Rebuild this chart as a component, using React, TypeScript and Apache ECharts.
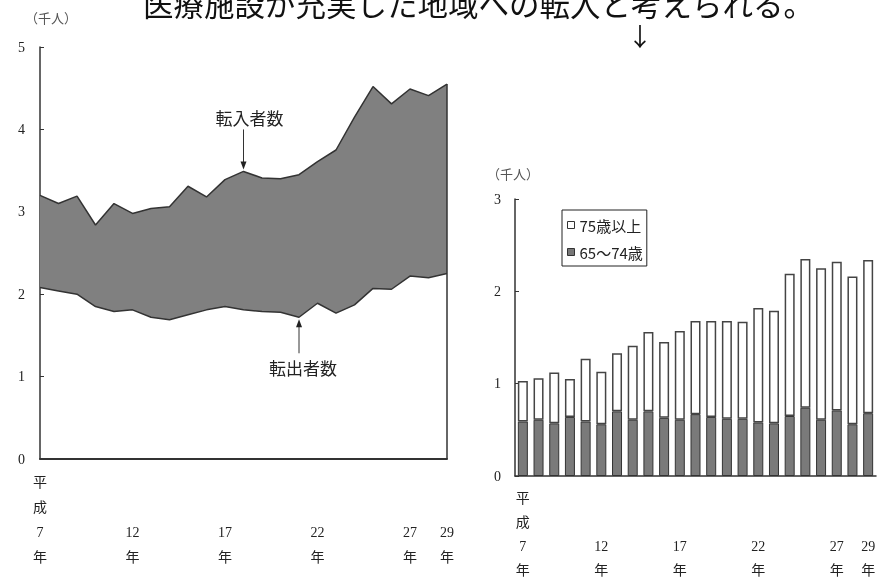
import React, { useEffect, useRef } from "react";
import * as echarts from "echarts";

const years = ["7","8","9","10","11","12","13","14","15","16","17","18","19","20","21","22","23","24","25","26","27","28","29"];
const labelIdx = [0, 5, 10, 15, 20, 22];
const inflow = [3.20,3.10,3.19,2.84,3.10,2.98,3.04,3.06,3.31,3.18,3.39,3.49,3.41,3.40,3.45,3.61,3.75,4.15,4.52,4.31,4.49,4.41,4.55];
const outflow = [2.08,2.04,2.00,1.85,1.79,1.81,1.72,1.69,1.75,1.81,1.85,1.81,1.79,1.78,1.72,1.89,1.77,1.87,2.07,2.06,2.22,2.20,2.25];
const age65to74 = [0.59,0.61,0.57,0.64,0.59,0.56,0.70,0.61,0.70,0.63,0.61,0.67,0.64,0.62,0.62,0.58,0.57,0.65,0.74,0.61,0.71,0.56,0.68];
const age75plus = [0.44,0.45,0.55,0.41,0.68,0.57,0.63,0.80,0.86,0.82,0.96,1.01,1.04,1.06,1.05,1.24,1.22,1.54,1.61,1.64,1.61,1.60,1.66];

const FONT = "'Liberation Serif', 'Noto Sans CJK JP', serif";
const JP = "'Noto Sans CJK JP', sans-serif";

export default function App() {
  const ref = useRef<HTMLDivElement>(null);
  useEffect(() => {
    if (!ref.current) return;
    const chart = echarts.init(ref.current, null, { renderer: "svg" });
    const excess = inflow.map((v, i) => +(v - outflow[i]).toFixed(2));
    const xLabel = {
      interval: (i: number) => labelIdx.includes(i),
      formatter: (v: string, i: number) => (i === 0 ? `平\n成\n${v}\n年` : `\n\n${v}\n年`),
      fontFamily: FONT,
      fontSize: 14,
      color: "#222",
    };
    chart.setOption({
      animation: false,
      legend: {
        orient: "vertical",
        left: 562,
        top: 210,
        borderColor: "#222",
        borderWidth: 1,
        padding: [7, 4, 6, 5],
        itemGap: 11,
        itemWidth: 7,
        itemHeight: 7,
        icon: "rect",
        textStyle: { fontFamily: JP, fontSize: 15, lineHeight: 16, color: "#222" },
        data: [
          { name: "75歳以上", itemStyle: { color: "#fff", borderColor: "#333", borderWidth: 1 } },
          { name: "65～74歳", itemStyle: { color: "#777", borderColor: "#333", borderWidth: 1 } },
        ],
      },
      grid: [
        { left: 40, top: 47, right: 435, bottom: 123, containLabel: false, outerBoundsMode: "none" },
        { left: 515, top: 199, right: 6, bottom: 106, containLabel: false, outerBoundsMode: "none" },
      ],
      xAxis: [
        {
          gridIndex: 0, type: "category", boundaryGap: false, data: years,
          axisLine: { lineStyle: { color: "#333", width: 2 } },
          axisTick: { show: false },
          axisLabel: { ...xLabel, margin: 11, lineHeight: 25 },
        },
        {
          gridIndex: 1, type: "category", boundaryGap: true, data: years,
          axisLine: { lineStyle: { color: "#333", width: 1.5 } },
          axisTick: { show: false },
          axisLabel: { ...xLabel, margin: 10, lineHeight: 24 },
        },
      ],
      yAxis: [
        {
          gridIndex: 0, type: "value", min: 0, max: 5, interval: 1,
          axisLine: { show: true, lineStyle: { color: "#333", width: 1.5 } },
          axisTick: { show: true, inside: true, length: 4, lineStyle: { color: "#333" } },
          splitLine: { show: false },
          axisLabel: { margin: 15, fontFamily: FONT, fontSize: 14, color: "#222" },
        },
        {
          gridIndex: 1, type: "value", min: 0, max: 3, interval: 1,
          axisLine: { show: true, lineStyle: { color: "#333", width: 1.5 } },
          axisTick: { show: true, inside: true, length: 4, lineStyle: { color: "#333" } },
          splitLine: { show: false },
          axisLabel: { margin: 14, fontFamily: FONT, fontSize: 14, color: "#222" },
        },
      ],
      series: [
        {
          name: "転出者数", type: "line", xAxisIndex: 0, yAxisIndex: 0, stack: "flow",
          data: outflow, symbol: "none", lineStyle: { color: "#333", width: 1.5 },
        },
        {
          name: "転入超過数", type: "line", xAxisIndex: 0, yAxisIndex: 0, stack: "flow",
          data: excess, symbol: "none", lineStyle: { color: "#333", width: 1.5 },
          areaStyle: { color: "#808080", opacity: 1 },
          markLine: {
            silent: true, symbol: "none", label: { show: false },
            lineStyle: { color: "#333", width: 1.5, type: "solid" },
            data: [[{ coord: [years.length - 1, 0] }, { coord: [years.length - 1, inflow[inflow.length - 1]] }]],
          },
        },
        {
          name: "65～74歳", type: "bar", xAxisIndex: 1, yAxisIndex: 1, stack: "age",
          data: age65to74, barWidth: 10,
          itemStyle: { color: "#7a7a7a", borderColor: "#333", borderWidth: 1 },
        },
        {
          name: "75歳以上", type: "bar", xAxisIndex: 1, yAxisIndex: 1, stack: "age",
          data: age75plus, barWidth: 10,
          itemStyle: { color: "#fff", borderColor: "#444", borderWidth: 1.5 },
        },
      ],
    });

    const pIn = chart.convertToPixel({ xAxisIndex: 0, yAxisIndex: 0 }, [11, inflow[11]]) as number[];
    const pOut = chart.convertToPixel({ xAxisIndex: 0, yAxisIndex: 0 }, [14, outflow[14]]) as number[];
    const arrowDown = (x: number, y: number) => ({
      type: "polygon", shape: { points: [[x - 3, y - 8], [x + 3, y - 8], [x, y]] }, style: { fill: "#222" },
    });
    const arrowUp = (x: number, y: number) => ({
      type: "polygon", shape: { points: [[x - 3, y + 8], [x + 3, y + 8], [x, y]] }, style: { fill: "#222" },
    });
    chart.setOption({
      graphic: [
        {
          type: "text", left: 143, top: -12,
          style: { text: "医療施設が充実した地域への転入と考えられる。", fontFamily: JP, fontSize: 30.5, fill: "#111" },
        },
        {
          type: "text", x: 640, y: 35,
          style: { text: "↓", fontFamily: JP, fontSize: 25, fill: "#111", align: "center", verticalAlign: "middle" },
        },
        {
          type: "text", x: 51, y: 17,
          style: { text: "（千人）", fontFamily: JP, fontSize: 13, fill: "#555", align: "center", verticalAlign: "middle" },
        },
        {
          type: "text", x: 513, y: 173,
          style: { text: "（千人）", fontFamily: JP, fontSize: 13, fill: "#555", align: "center", verticalAlign: "middle" },
        },
        {
          type: "text", x: pIn[0] + 6, y: pIn[1] - 54,
          style: { text: "転入者数", fontFamily: JP, fontSize: 17, fill: "#222", align: "center", verticalAlign: "middle" },
        },
        { type: "line", shape: { x1: pIn[0], y1: pIn[1] - 42, x2: pIn[0], y2: pIn[1] - 6 }, style: { stroke: "#333", lineWidth: 1 } },
        arrowDown(pIn[0], pIn[1] - 2),
        { type: "rect", shape: { x: 238, y: 223, width: 105, height: 34 }, style: { fill: "#fff" } },
        {
          type: "text", x: 290.5, y: 240,
          style: { text: "転入超過数", fontFamily: JP, fontSize: 18, fill: "#222", align: "center", verticalAlign: "middle" },
        },
        {
          type: "text", x: pOut[0] + 4, y: pOut[1] + 50,
          style: { text: "転出者数", fontFamily: JP, fontSize: 17, fill: "#222", align: "center", verticalAlign: "middle" },
        },
        { type: "line", shape: { x1: pOut[0], y1: pOut[1] + 6, x2: pOut[0], y2: pOut[1] + 36 }, style: { stroke: "#333", lineWidth: 1 } },
        arrowUp(pOut[0], pOut[1] + 2),
      ],
    });
    return () => chart.dispose();
  }, []);
  return <div ref={ref} style={{ position: "fixed", left: 0, top: 0, width: 882, height: 582 }} />;
}
